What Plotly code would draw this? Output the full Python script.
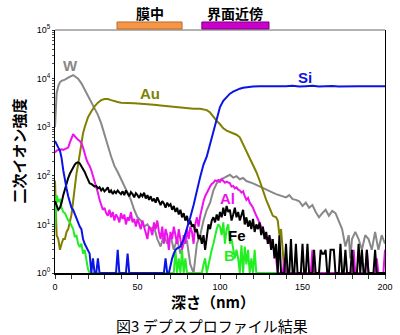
import plotly.graph_objects as go

# ---------------- data (intensity vs depth in nm) ----------------
SI_X = [0,1,2,3,4,5,6,7,8,9,10,11,12,13,14,15,16,17,18,19,20,21,22,23,24,25,26,27,28,37,38,39,43,44,45,
        66,67,68,69,70,71,72,73,74,76,78,80,82,84,86,88,90,92,94,96,98,100,102,104,106,108,110,112,114,116,
        118,120,124,128,132,136,140,144,148,152,156,160,164,168,172,176,180,184,188,192,196,200]
SI_Y = [520,430,380,330,230,130,80,55,38,28,22,20,16,14,11,9,8,5,4,3.5,3,2.5,1,2,1,1,2,1,1,1,3,1,1,2.5,1,
        1,2,1,1,1.5,2,2.5,3,3.2,3.5,5,8,14,25,50,95,170,250,450,800,1500,2600,3500,4200,4900,5400,5900,6200,6500,6700,
        6800,6900,7000,6950,7050,6900,7000,7100,6900,7000,7100,6900,7000,7050,6900,7000,7100,6950,7000,6900,7000,7000]

W_X = [0,1,2,3,4,6,8,10,11,12,14,16,18,20,22,24,26,28,30,32,34,36,38,40,42,44,46,48,50,52,54,56,58,60,62,64,66,68,
       70,72,74,76,78,80,82,84,86,88,90,92,94,96,98,100,102,104,106,108,110,112,114,116,118,120,122,124,126,128,130,
       132,134,136,138,140,142,144,146,148,150,152,154,156,158,160,162,164,166,168,170,172,174,176,178,179,180,182,
       184,186,188,190,192,194,196,198,200]
W_Y = [1000,5000,7000,8500,9000,9500,10500,11500,11800,11200,10000,8000,6000,4300,3200,2400,1800,1200,750,420,250,160,
       120,85,62,45,32,20,14,12,9,10,8,9,5,3.5,6,4,6,3,5,2.5,4,4.5,1.5,1,4,6,12,20,28,50,70,82,90,95,105,92,98,85,90,78,
       75,70,65,60,55,52,47,45,42,40,38,36,40,33,32,30,24,28,22,25,18,14,17,20,15,19,17,12,8,3.5,6,2,5,7,5,3,6,5,3,7,3,6,4]

AU_X = [0,1,2,3,4,5,6,7,8,9,10,11,12,13,14,15,16,17,18,20,22,24,26,28,30,32,34,36,38,40,44,48,52,56,60,64,68,72,76,
        80,84,88,90,92,94,96,98,100,102,104,106,108,110,112,114,116,118,120,122,124,126,128,130,132,134,135,136,137,
        138,139,140,160,180,200]
AU_Y = [80,6,5,3,4,5,5,7,8,12,16,30,60,110,170,300,500,750,1000,1600,2100,2700,3200,3600,3800,3800,3600,3400,3300,
        3200,3100,3100,3050,3000,2900,2800,2700,2600,2500,2450,2400,2400,2350,2250,2000,1600,1350,1150,950,850,800,
        760,700,620,450,340,240,170,120,80,50,32,22,15,14,12,6,8,3,1,1,1,1,1]

AL_HEAD = [300,330,340,350,350,340,350,360,380,480,620,720,650,580,550,520,470,380,280,220,180,160,130,100,80,60,45,32,
           25,20,22,17,15,20,14,18,12,16,14,11,17,13,16,10,14,12,18,11,13,9,13,10,8,12,9,6,5,9,8,6,11,8,12,7,5,9,4,8,
           6,3,7,5,9,6,4,8,5,3,6,4,8,5,9,7,4,10,14,9,15,22,30,38,45,55,60,68,72,80,78,82,75,85,80,72,76,74,70,60,62,55,
           58,52,50,45,48,38,32,35,28,25,22,18,15,12,10,9,8,6,5,5,4,5,4,3,2,1]
AL_TAIL_X = [138,139,140,155,156,157,180,181,182,188,189,190,194,195,196,199,200]
AL_TAIL_Y = [1,2,1,1,3,1,1,3,1,1,3,1,1,2,1,1,3]

FE_HEAD = [30,25,20,22,28,40,55,70,90,110,130,150,170,185,190,180,160,140,120,100,80,70,68,65,60,62,55,58,50,55,48,52,
           58,45,50,42,48,44,50,45,42,48,40,50,44,38,46,42,36,44,40,35,42,38,45,34,40,32,38,30,34,28,36,30,25,30,27,22,
           28,24,26,20,24,18,22,16,20,14,17,12,15,10,12,9,10,7,8,5,6,4,6,3,5,10,8,12,14,11,16,12,18,14,22,15,24,18,20,
           12,16,22,14,18,12,16,20,10,14,9,12,8,13,7,10,8,11,6,9,5,7,4,6,3,5,2,4,1]
FE_TAIL = [6,1,1,1,4,1,1,5,1,1,4,1,1,1,4,1,1,4,1,1,1,3,1,1,1,3,2.5,2.5,3,1,1,3,3,3,1,1,1,4,1,1,3,1,1,1,3,1,1,1,4,1,3,1,1,
           3,1,1,1,1,3,1,1,1,1,1,1]

B_HEAD = [8,40,30,32,22,18,17,14,12,11,9,8,5.5,6,4,3.4,4,2.5,3,1.8,1.2,1]
B_MID_X = [70,72,73,74,75,76,77,78,79,80,82,88,89,90,91,92,93,94,95,96,97,98,99,100,101,102,103,104,105,106,107,108,
           109,110,111,112,113,114,115,116,117,118,119,120,121,122,123,140,200]
B_MID_Y = [1,1,3,1,2,1,3,1,2,1,1,1,1,1.5,2,1,1.5,2,3,4,6,8,10,9,6,11,4,8,10,4,5,3,2,3,2,1,3.7,1,3.5,1.5,3,1,2,1,3,1,1,1,1]

TICK_NM = [0, 50, 100, 150, 200]
DECADES = [0, 1, 2, 3, 4, 5]

# ---------------- build series ----------------
AL_X = list(range(len(AL_HEAD))) + AL_TAIL_X
AL_Y = AL_HEAD + AL_TAIL_Y
FE_X = list(range(len(FE_HEAD))) + list(range(len(FE_HEAD), len(FE_HEAD) + len(FE_TAIL)))
FE_Y = FE_HEAD + FE_TAIL
B_X = list(range(len(B_HEAD))) + B_MID_X
B_Y = B_HEAD + B_MID_Y

fig = go.Figure()


def add(x, y, color):
    fig.add_trace(go.Scatter(x=x, y=y, mode='lines', showlegend=False,
                             line=dict(color=color, width=2), hoverinfo='skip'))


add(W_X, W_Y, '#888888')
add(AU_X, AU_Y, '#808000')
add(B_X, B_Y, '#22EE22')
add(AL_X, AL_Y, '#EE11EE')
add(FE_X, FE_Y, '#000000')
add(SI_X, SI_Y, '#0A14E6')

# ticks
x_minor = [v for v in range(0, 201, 10) if v not in TICK_NM]
ytv = [10 ** d for d in DECADES]
ytt = ['10<sup>%d</sup>' % d for d in DECADES]
y_minor = [m * 10 ** d for d in DECADES[:-1] for m in range(2, 10)]

fig.update_layout(
    width=400, height=335,
    margin=dict(l=55, r=15, t=30, b=62),
    plot_bgcolor='white', paper_bgcolor='white',
    font=dict(family='Liberation Sans, Arial, sans-serif', size=10, color='black'),
    xaxis=dict(range=[0, 200], tickmode='array', tickvals=TICK_NM, ticktext=[str(v) for v in TICK_NM],
               ticks='outside', ticklen=4, tickcolor='#333333', showline=True, linecolor='black',
               linewidth=1.5, showgrid=False, zeroline=False, tickfont=dict(size=9), automargin=False,
               minor=dict(tickvals=x_minor, ticks='outside', ticklen=4, tickcolor='#333333', showgrid=False)),
    yaxis=dict(type='log', range=[0, 5], tickmode='array', tickvals=ytv, ticktext=ytt,
               ticks='outside', ticklen=2, tickcolor='#333333', showline=True, linecolor='black',
               linewidth=1, mirror=True, showgrid=False, zeroline=False, tickfont=dict(size=9), automargin=False,
               minor=dict(tickvals=y_minor, ticks='outside', ticklen=2, tickcolor='#555555', showgrid=False)),
)

# top gray border
fig.add_shape(type='line', xref='paper', yref='paper', x0=0, x1=1, y0=1, y1=1,
              line=dict(color='#999999', width=1.5))
# region boxes
fig.add_shape(type='rect', xref='x', yref='paper', x0=37.6, x1=77, y0=1.004, y1=1.033,
              fillcolor='#F79646', line=dict(color='#B86A2A', width=1))
fig.add_shape(type='rect', xref='x', yref='paper', x0=89, x1=129.7, y0=1.004, y1=1.033,
              fillcolor='#CC00CC', line=dict(color='#7A007A', width=1))

JP = 'Noto Sans CJK JP'
ann = [
    dict(x=57.3, y=1.07, xref='x', yref='paper', text='<b>膜中</b>', font=dict(family=JP, size=14)),
    dict(x=109.3, y=1.07, xref='x', yref='paper', text='<b>界面近傍</b>', font=dict(family=JP, size=14)),
    dict(x=9.1, y=4.26, xref='x', yref='y', text='<b>W</b>', font=dict(size=15, color='#888888')),
    dict(x=57.6, y=3.70, xref='x', yref='y', text='<b>Au</b>', font=dict(size=15, color='#808000')),
    dict(x=151.5, y=4.03, xref='x', yref='y', text='<b>Si</b>', font=dict(size=15, color='#0A14E6')),
    dict(x=104.5, y=1.54, xref='x', yref='y', text='<b>Al</b>', font=dict(size=15, color='#EE11EE')),
    dict(x=110.5, y=0.78, xref='x', yref='y', text='<b>Fe</b>', font=dict(size=15, color='black')),
    dict(x=105.5, y=0.37, xref='x', yref='y', text='<b>B</b>', font=dict(size=15, color='#22EE22')),
    dict(x=-0.112, y=0.5, xref='paper', yref='paper', text='<b>二次イオン強度</b>', textangle=-90,
         font=dict(family=JP, size=15)),
    dict(x=0.48, y=-0.119, xref='paper', yref='paper', text='<b>深さ（nm）</b>',
         font=dict(family=JP, size=15)),
    dict(x=0.475, y=-0.214, xref='paper', yref='paper', text='図3 デプスプロファイル結果',
         font=dict(family=JP, size=15)),
]
for a in ann:
    a.setdefault('showarrow', False)
    a.setdefault('xanchor', 'center')
    a.setdefault('yanchor', 'middle')
    fig.add_annotation(**a)

fig.write_html('out.html')
